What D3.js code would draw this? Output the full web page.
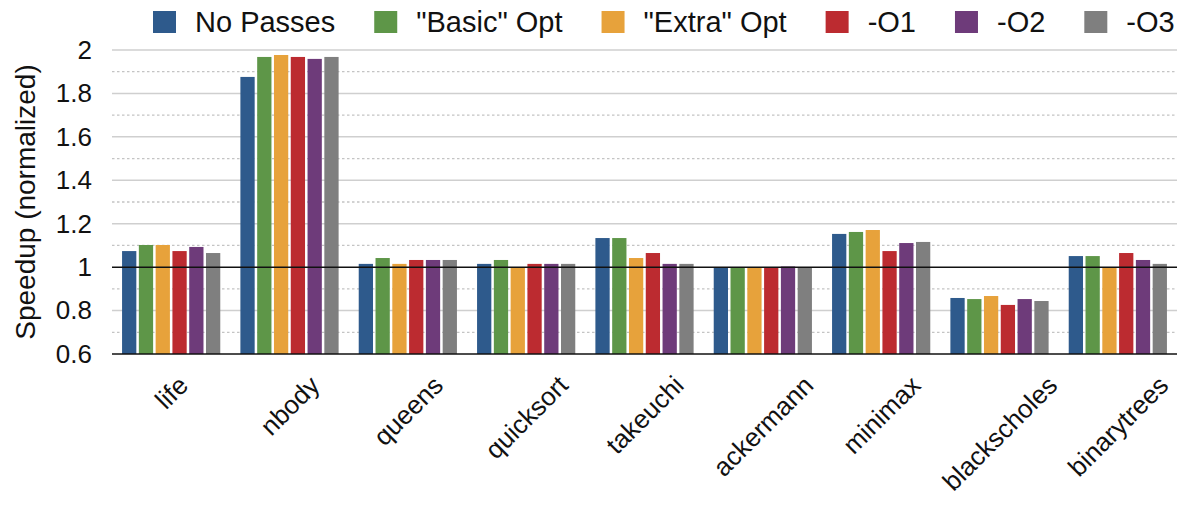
<!DOCTYPE html>
<html>
<head>
<meta charset="utf-8">
<script src="https://cdn.jsdelivr.net/npm/d3@7"></script>
<style>
  body { margin: 0; background: #fff; }
  svg { font-family: "Liberation Sans", Arial, Helvetica, sans-serif; }
</style>
</head>
<body>
<div id="chart"></div>
<script>
// Benchmarks and optimisation levels
const benchmarks = ["life", "nbody", "queens", "quicksort", "takeuchi", "ackermann", "minimax", "blackscholes", "binarytrees"];
const seriesNames = ["No Passes", "\"Basic\" Opt", "\"Extra\" Opt", "-O1", "-O2", "-O3"];
const colors = ["#2e5a8c", "#5e9648", "#e7a23b", "#bc2b30", "#6e3b7a", "#7f7f7f"];

// speedup per benchmark, one array per series
const noPasses = [1.074, 1.876, 1.015, 1.015, 1.134, 0.996, 1.153, 0.858, 1.051];
const basicOpt = [1.102, 1.968, 1.042, 1.033, 1.134, 0.998, 1.162, 0.853, 1.051];
const extraOpt = [1.102, 1.977, 1.015, 1.000, 1.042, 1.000, 1.171, 0.867, 1.000];
const o1       = [1.074, 1.968, 1.033, 1.015, 1.065, 0.996, 1.074, 0.826, 1.065];
const o2       = [1.093, 1.959, 1.033, 1.015, 1.015, 1.003, 1.111, 0.853, 1.033];
const o3       = [1.065, 1.968, 1.033, 1.015, 1.015, 1.000, 1.116, 0.844, 1.015];
const seriesValues = [noPasses, basicOpt, extraOpt, o1, o2, o3];

const majorTicks = [0.6, 0.8, 1, 1.2, 1.4, 1.6, 1.8, 2];
const minorTicks = [0.7, 0.9, 1.1, 1.3, 1.5, 1.7, 1.9];

const width = 1181, height = 507;
const plotLeft = 112, plotRight = 1177, plotTop = 50, plotBottom = 354;

const svg = d3.select("#chart").append("svg")
    .attr("width", width)
    .attr("height", height);

const x0 = d3.scaleBand()
    .domain(benchmarks)
    .range([plotLeft, plotRight])
    .paddingInner(0.17)
    .paddingOuter(0.085);

const x1 = d3.scaleBand()
    .domain(d3.range(seriesNames.length))
    .range([0, x0.bandwidth()])
    .paddingInner(0.15);

const y = d3.scaleLinear()
    .domain([0.6, 2])
    .range([plotBottom, plotTop]);

// Grid
svg.append("g")
    .selectAll("line")
    .data(minorTicks)
    .join("line")
    .attr("x1", plotLeft).attr("x2", plotRight)
    .attr("y1", d => y(d)).attr("y2", d => y(d))
    .attr("stroke", "#c4c4c4")
    .attr("stroke-width", 1.3)
    .attr("stroke-dasharray", "2.5,2.5");

svg.append("g")
    .selectAll("line")
    .data(majorTicks.filter(d => d !== 1 && d !== 0.6))
    .join("line")
    .attr("x1", plotLeft).attr("x2", plotRight)
    .attr("y1", d => y(d)).attr("y2", d => y(d))
    .attr("stroke", "#cfcfcf")
    .attr("stroke-width", 1.5);

// Bars
const groups = svg.append("g")
    .selectAll("g")
    .data(benchmarks)
    .join("g")
    .attr("transform", d => `translate(${x0(d)},0)`);

groups.selectAll("rect")
    .data((d, i) => seriesValues.map((s, k) => ({ k, v: s[i] })))
    .join("rect")
    .attr("x", d => x1(d.k))
    .attr("width", x1.bandwidth())
    .attr("y", d => y(d.v))
    .attr("height", d => y(0.6) - y(d.v))
    .attr("fill", d => colors[d.k]);

// Reference lines at 1 and the baseline
svg.append("g")
    .selectAll("line")
    .data([1, 0.6])
    .join("line")
    .attr("x1", plotLeft).attr("x2", plotRight)
    .attr("y1", d => y(d)).attr("y2", d => y(d))
    .attr("stroke", "#111")
    .attr("stroke-width", 1.5);

// Y axis labels
const yAxis = svg.append("g")
    .attr("transform", `translate(${plotLeft},0)`)
    .call(d3.axisLeft(y).tickValues(majorTicks).tickFormat(d3.format("")).tickSize(0).tickPadding(20));
yAxis.select(".domain").remove();
yAxis.selectAll("text")
    .attr("font-family", "Liberation Sans, Arial, sans-serif")
    .attr("font-size", 26)
    .attr("fill", "#111");

svg.append("text")
    .attr("transform", `translate(35,${(plotTop + plotBottom) / 2}) rotate(-90)`)
    .attr("text-anchor", "middle")
    .attr("font-size", 28)
    .attr("fill", "#111")
    .text("Speedup (normalized)");

// X labels: rotated box centred under the group, tops aligned
const labelSize = 26;
svg.append("g")
    .selectAll("text")
    .data(benchmarks)
    .join("text")
    .attr("text-anchor", "end")
    .attr("font-size", labelSize)
    .attr("fill", "#111")
    .text(d => d)
    .attr("transform", function(d) {
        const w = this.getComputedTextLength();
        const cx = x0(d) + x0.bandwidth() / 2 + (w + 0.73 * labelSize) * Math.SQRT1_2 / 2;
        return `translate(${cx},387) rotate(-45)`;
    });

// Legend
const legend = svg.append("g").attr("transform", "translate(153,11)");
let lx = 0;
seriesNames.forEach((name, i) => {
    const item = legend.append("g").attr("transform", `translate(${lx},0)`);
    item.append("rect")
        .attr("width", 23).attr("height", 22)
        .attr("fill", colors[i]);
    const t = item.append("text")
        .attr("x", 42)
        .attr("y", 21)
        .attr("font-size", 29)
        .attr("fill", "#111")
        .text(name);
    lx += 42 + t.node().getComputedTextLength() + 39;
});
</script>
</body>
</html>
